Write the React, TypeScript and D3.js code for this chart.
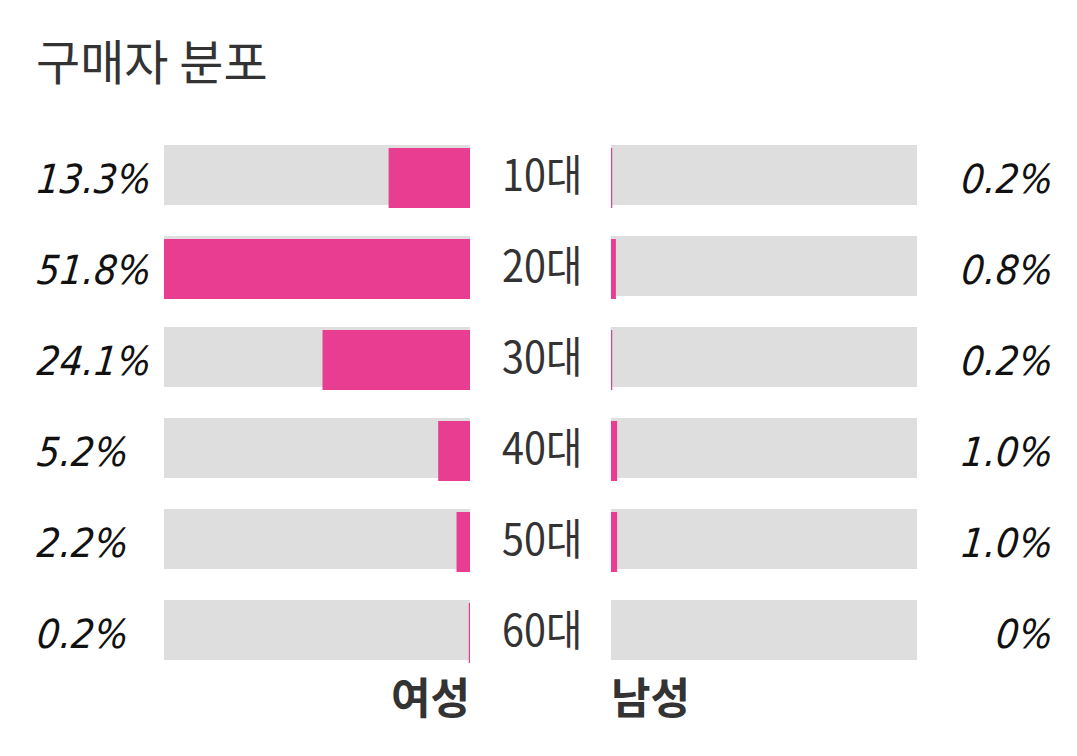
import React from "react";
import * as d3 from "d3";

const title = "구매자 분포";
const ageGroups = ["10대", "20대", "30대", "40대", "50대", "60대"];
const femaleValues = [13.3, 51.8, 24.1, 5.2, 2.2, 0.2];
const maleValues = [0.2, 0.8, 0.2, 1.0, 1.0, 0];
const femaleLabel = "여성";
const maleLabel = "남성";
const scaleMax = 50;

const W = 1077;
const H = 756;
const PINK = "#E93D92";
const GRAY = "#DEDEDE";
const KR = "'Noto Sans CJK KR', 'Noto Sans', sans-serif";
const PCT = "'DejaVu Sans Condensed', 'DejaVu Sans', sans-serif";

const fmt = (v: number) => (v === 0 ? "0%" : `${v.toFixed(1)}%`);

export default function App() {
  const barW = 306;
  const leftX0 = 164;
  const rightX0 = 611;
  const x = d3.scaleLinear().domain([0, scaleMax]).range([0, barW]).clamp(true);
  const y = d3
    .scaleBand<string>()
    .domain(ageGroups)
    .range([145, 660])
    .paddingInner(31 / 91)
    .paddingOuter(0);
  const bh = y.bandwidth();

  return (
    <div style={{ margin: -8, width: W, height: H, background: "#fff" }}>
      <svg width={W} height={H} style={{ display: "block" }}>
        <text x={36} y={80} fontFamily={KR} fontSize={48} fill="#333">
          {title}
        </text>
        {ageGroups.map((g, i) => {
          const top = y(g)!;
          const fv = femaleValues[i];
          const mv = maleValues[i];
          const fw = x(fv);
          const mw = x(mv);
          return (
            <g key={g}>
              <rect x={leftX0} y={top} width={barW} height={bh} fill={GRAY} />
              <rect x={rightX0} y={top} width={barW} height={bh} fill={GRAY} />
              {fw > 0 && (
                <rect x={leftX0 + barW - fw} y={top + 3} width={Math.max(fw, 1)} height={bh} fill={PINK} />
              )}
              {mw > 0 && (
                <rect x={rightX0} y={top + 3} width={Math.max(mw, 1)} height={bh} fill={PINK} />
              )}
              <text
                transform={`translate(36,${top + 48}) skewX(-6)`}
                fontFamily={PCT}
                fontStyle="italic"
                fontSize={40}
                fill="#111"
              >
                {fmt(fv)}
              </text>
              <text
                transform={`translate(1052,${top + 48}) skewX(-6)`}
                textAnchor="end"
                fontFamily={PCT}
                fontStyle="italic"
                fontSize={40}
                fill="#111"
              >
                {fmt(mv)}
              </text>
              <text
                transform={`translate(502,${top + 46}) scale(0.92,1)`}
                fontFamily={KR}
                fontSize={43}
                fill="#333"
              >
                {g}
              </text>
            </g>
          );
        })}
        <text x={470} y={714} textAnchor="end" fontFamily={KR} fontWeight={700} fontSize={43} fill="#333">
          {femaleLabel}
        </text>
        <text x={611} y={714} fontFamily={KR} fontWeight={700} fontSize={43} fill="#333">
          {maleLabel}
        </text>
      </svg>
    </div>
  );
}
